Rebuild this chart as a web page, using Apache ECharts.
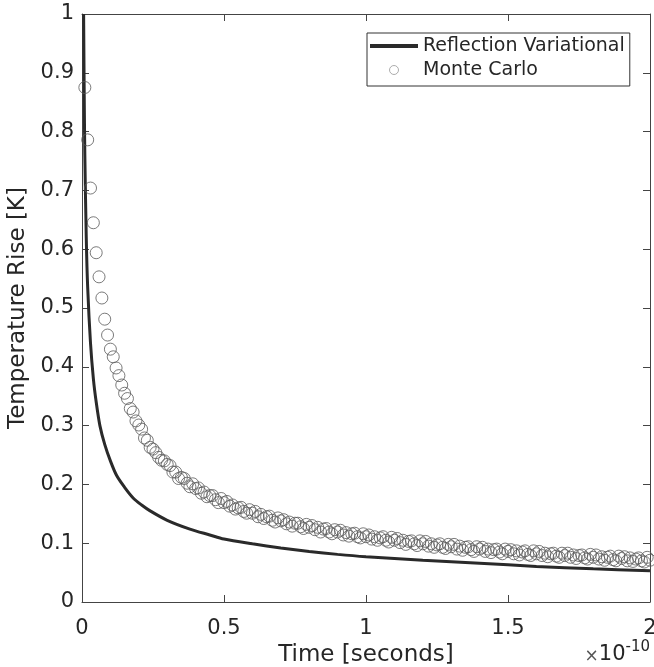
<!DOCTYPE html>
<html>
<head>
<meta charset="utf-8">
<script src="https://cdn.jsdelivr.net/npm/echarts@6/dist/echarts.min.js"></script>
<style>
html,body{margin:0;padding:0;background:#fff;}
#chart{width:654px;height:667px;}
</style>
</head>
<body>
<div id="chart"></div>
<script>
// Time axis in units of 1e-10 seconds
const xTicks = [0, 0.5, 1, 1.5, 2];
const yTicks = [0, 0.1, 0.2, 0.3, 0.4, 0.5, 0.6, 0.7, 0.8, 0.9, 1];

// Reflection Variational (solid line)
const rvTimes = [0.0057, 0.006, 0.008, 0.01, 0.015, 0.02, 0.03, 0.04, 0.05, 0.063, 0.08, 0.1, 0.122, 0.15, 0.18, 0.21, 0.24, 0.3, 0.38, 0.45, 0.5, 0.6, 0.7, 0.8, 0.9, 1.0, 1.2, 1.4, 1.6, 1.8, 2.0];
const rvValues = [1.0, 0.98, 0.85, 0.76, 0.62, 0.535, 0.44, 0.38, 0.34, 0.30, 0.268, 0.24, 0.215, 0.195, 0.177, 0.165, 0.155, 0.139, 0.124, 0.114, 0.107, 0.099, 0.092, 0.086, 0.081, 0.077, 0.071, 0.066, 0.0605, 0.0565, 0.053];

// Monte Carlo (open circles), sampled every 0.01e-10 s starting at 0.01e-10 s
const mcStep = 0.01;
const mcValues = [
0.875,0.786,0.704,0.645,0.594,0.553,0.517,0.481,0.454,0.430,
0.417,0.398,0.385,0.369,0.355,0.346,0.329,0.323,0.308,0.301,
0.294,0.279,0.275,0.263,0.260,0.254,0.246,0.241,0.240,0.234,
0.232,0.221,0.221,0.210,0.212,0.210,0.202,0.196,0.201,0.193,
0.194,0.185,0.187,0.179,0.181,0.181,0.174,0.169,0.176,0.169,
0.171,0.163,0.165,0.158,0.160,0.161,0.154,0.151,0.157,0.151,
0.154,0.145,0.149,0.142,0.145,0.146,0.139,0.136,0.143,0.138,
0.140,0.133,0.136,0.129,0.134,0.134,0.128,0.125,0.132,0.127,
0.130,0.123,0.127,0.119,0.124,0.125,0.119,0.116,0.123,0.119,
0.122,0.114,0.118,0.112,0.116,0.117,0.111,0.109,0.116,0.111,
0.114,0.107,0.111,0.105,0.109,0.111,0.105,0.102,0.110,0.105,
0.108,0.101,0.105,0.098,0.103,0.104,0.099,0.096,0.104,0.099,
0.103,0.095,0.099,0.093,0.097,0.099,0.093,0.091,0.098,0.094,
0.098,0.090,0.095,0.088,0.093,0.094,0.089,0.086,0.094,0.090,
0.093,0.086,0.090,0.084,0.089,0.090,0.085,0.082,0.090,0.086,
0.089,0.082,0.087,0.080,0.085,0.087,0.081,0.079,0.087,0.082,
0.086,0.079,0.083,0.077,0.082,0.083,0.078,0.076,0.083,0.079,
0.083,0.076,0.080,0.074,0.079,0.080,0.075,0.073,0.081,0.076,
0.080,0.073,0.077,0.071,0.076,0.078,0.072,0.070,0.078,0.074,
0.077,0.070,0.075,0.069,0.073,0.075,0.070,0.068,0.076,0.071
];

const rvData = rvTimes.map((t, i) => [t, rvValues[i]]);
const mcData = mcValues.map((v, i) => [+((i + 1) * mcStep).toFixed(2), v]);

const FONT = 'DejaVu Sans';
const axisColor = '#444';
const textColor = '#262626';

const chart = echarts.init(document.getElementById('chart'), null, {renderer: 'canvas'});

const baseX = {
  type: 'value', min: xTicks[0], max: xTicks[xTicks.length - 1], interval: 0.5,
  axisLine: {show: true, onZero: false, lineStyle: {color: axisColor, width: 1}},
  axisTick: {show: true, inside: true, length: 7, lineStyle: {color: axisColor}},
  splitLine: {show: false}
};
const baseY = {
  type: 'value', min: yTicks[0], max: yTicks[yTicks.length - 1], interval: 0.1,
  axisLine: {show: true, onZero: false, lineStyle: {color: axisColor, width: 1}},
  axisTick: {show: true, inside: true, length: 7, lineStyle: {color: axisColor}},
  splitLine: {show: false}
};

chart.setOption({
  animation: false,
  backgroundColor: '#fff',
  grid: {left: 82, right: 4, top: 14, bottom: 65, containLabel: false, outerBoundsMode: 'none'},
  xAxis: [
    Object.assign({}, baseX, {
      position: 'bottom',
      name: 'Time [seconds]', nameLocation: 'middle', nameGap: 33,
      nameTextStyle: {fontFamily: FONT, fontSize: 23, color: textColor},
      axisLabel: {show: true, margin: 16, fontFamily: FONT, fontSize: 21, color: textColor,
        formatter: v => String(+v.toFixed(2))}
    }),
    Object.assign({}, baseX, {position: 'top', axisLabel: {show: false}})
  ],
  yAxis: [
    Object.assign({}, baseY, {
      position: 'left',
      name: 'Temperature Rise [K]', nameLocation: 'middle', nameGap: 43,
      nameTextStyle: {fontFamily: FONT, fontSize: 23, color: textColor},
      axisLabel: {show: true, margin: 8, fontFamily: FONT, fontSize: 21, color: textColor,
        formatter: v => String(+v.toFixed(2))}
    }),
    Object.assign({}, baseY, {position: 'right', axisLabel: {show: false}})
  ],
  legend: {
    show: true, orient: 'vertical', left: 367, top: 33,
    padding: [3, 5, 6, 3], itemGap: 4, itemWidth: 48, itemHeight: 9,
    backgroundColor: '#fff', borderColor: '#333', borderWidth: 1, borderRadius: 0,
    textStyle: {fontFamily: FONT, fontSize: 19, color: textColor, lineHeight: 20},
    data: [
      {name: 'Reflection Variational', icon: 'path://M0,0H48V4H0Z', itemStyle: {color: '#2a2a2a', borderWidth: 0}},
      {name: 'Monte Carlo', icon: 'circle', itemStyle: {color: 'rgba(255,255,255,0)', borderColor: '#999', borderWidth: 1}}
    ]
  },
  graphic: [{
    type: 'text', right: 4, top: 640,
    style: {
      text: '{a|×}{b|10}{c|-10}',
      rich: {
        a: {fontFamily: FONT, fontSize: 17, fill: '#555', verticalAlign: 'bottom'},
        b: {fontFamily: FONT, fontSize: 21, fill: textColor, verticalAlign: 'bottom'},
        c: {fontFamily: FONT, fontSize: 15, fill: textColor, verticalAlign: 'top', padding: [0, 0, 10, 0]}
      }
    }
  }],
  series: [
    {
      name: 'Reflection Variational', type: 'line', data: rvData,
      xAxisIndex: 0, yAxisIndex: 0,
      showSymbol: false, symbol: 'none', smooth: 0.3,
      lineStyle: {color: '#2a2a2a', width: 3},
      itemStyle: {color: '#2a2a2a'},
      z: 2
    },
    {
      name: 'Monte Carlo', type: 'scatter', data: mcData,
      xAxisIndex: 0, yAxisIndex: 0,
      symbol: 'circle', symbolSize: 12,
      itemStyle: {color: 'rgba(255,255,255,0)', borderColor: '#5a5a5a', borderWidth: 1},
      z: 3
    }
  ]
});
</script>
</body>
</html>
